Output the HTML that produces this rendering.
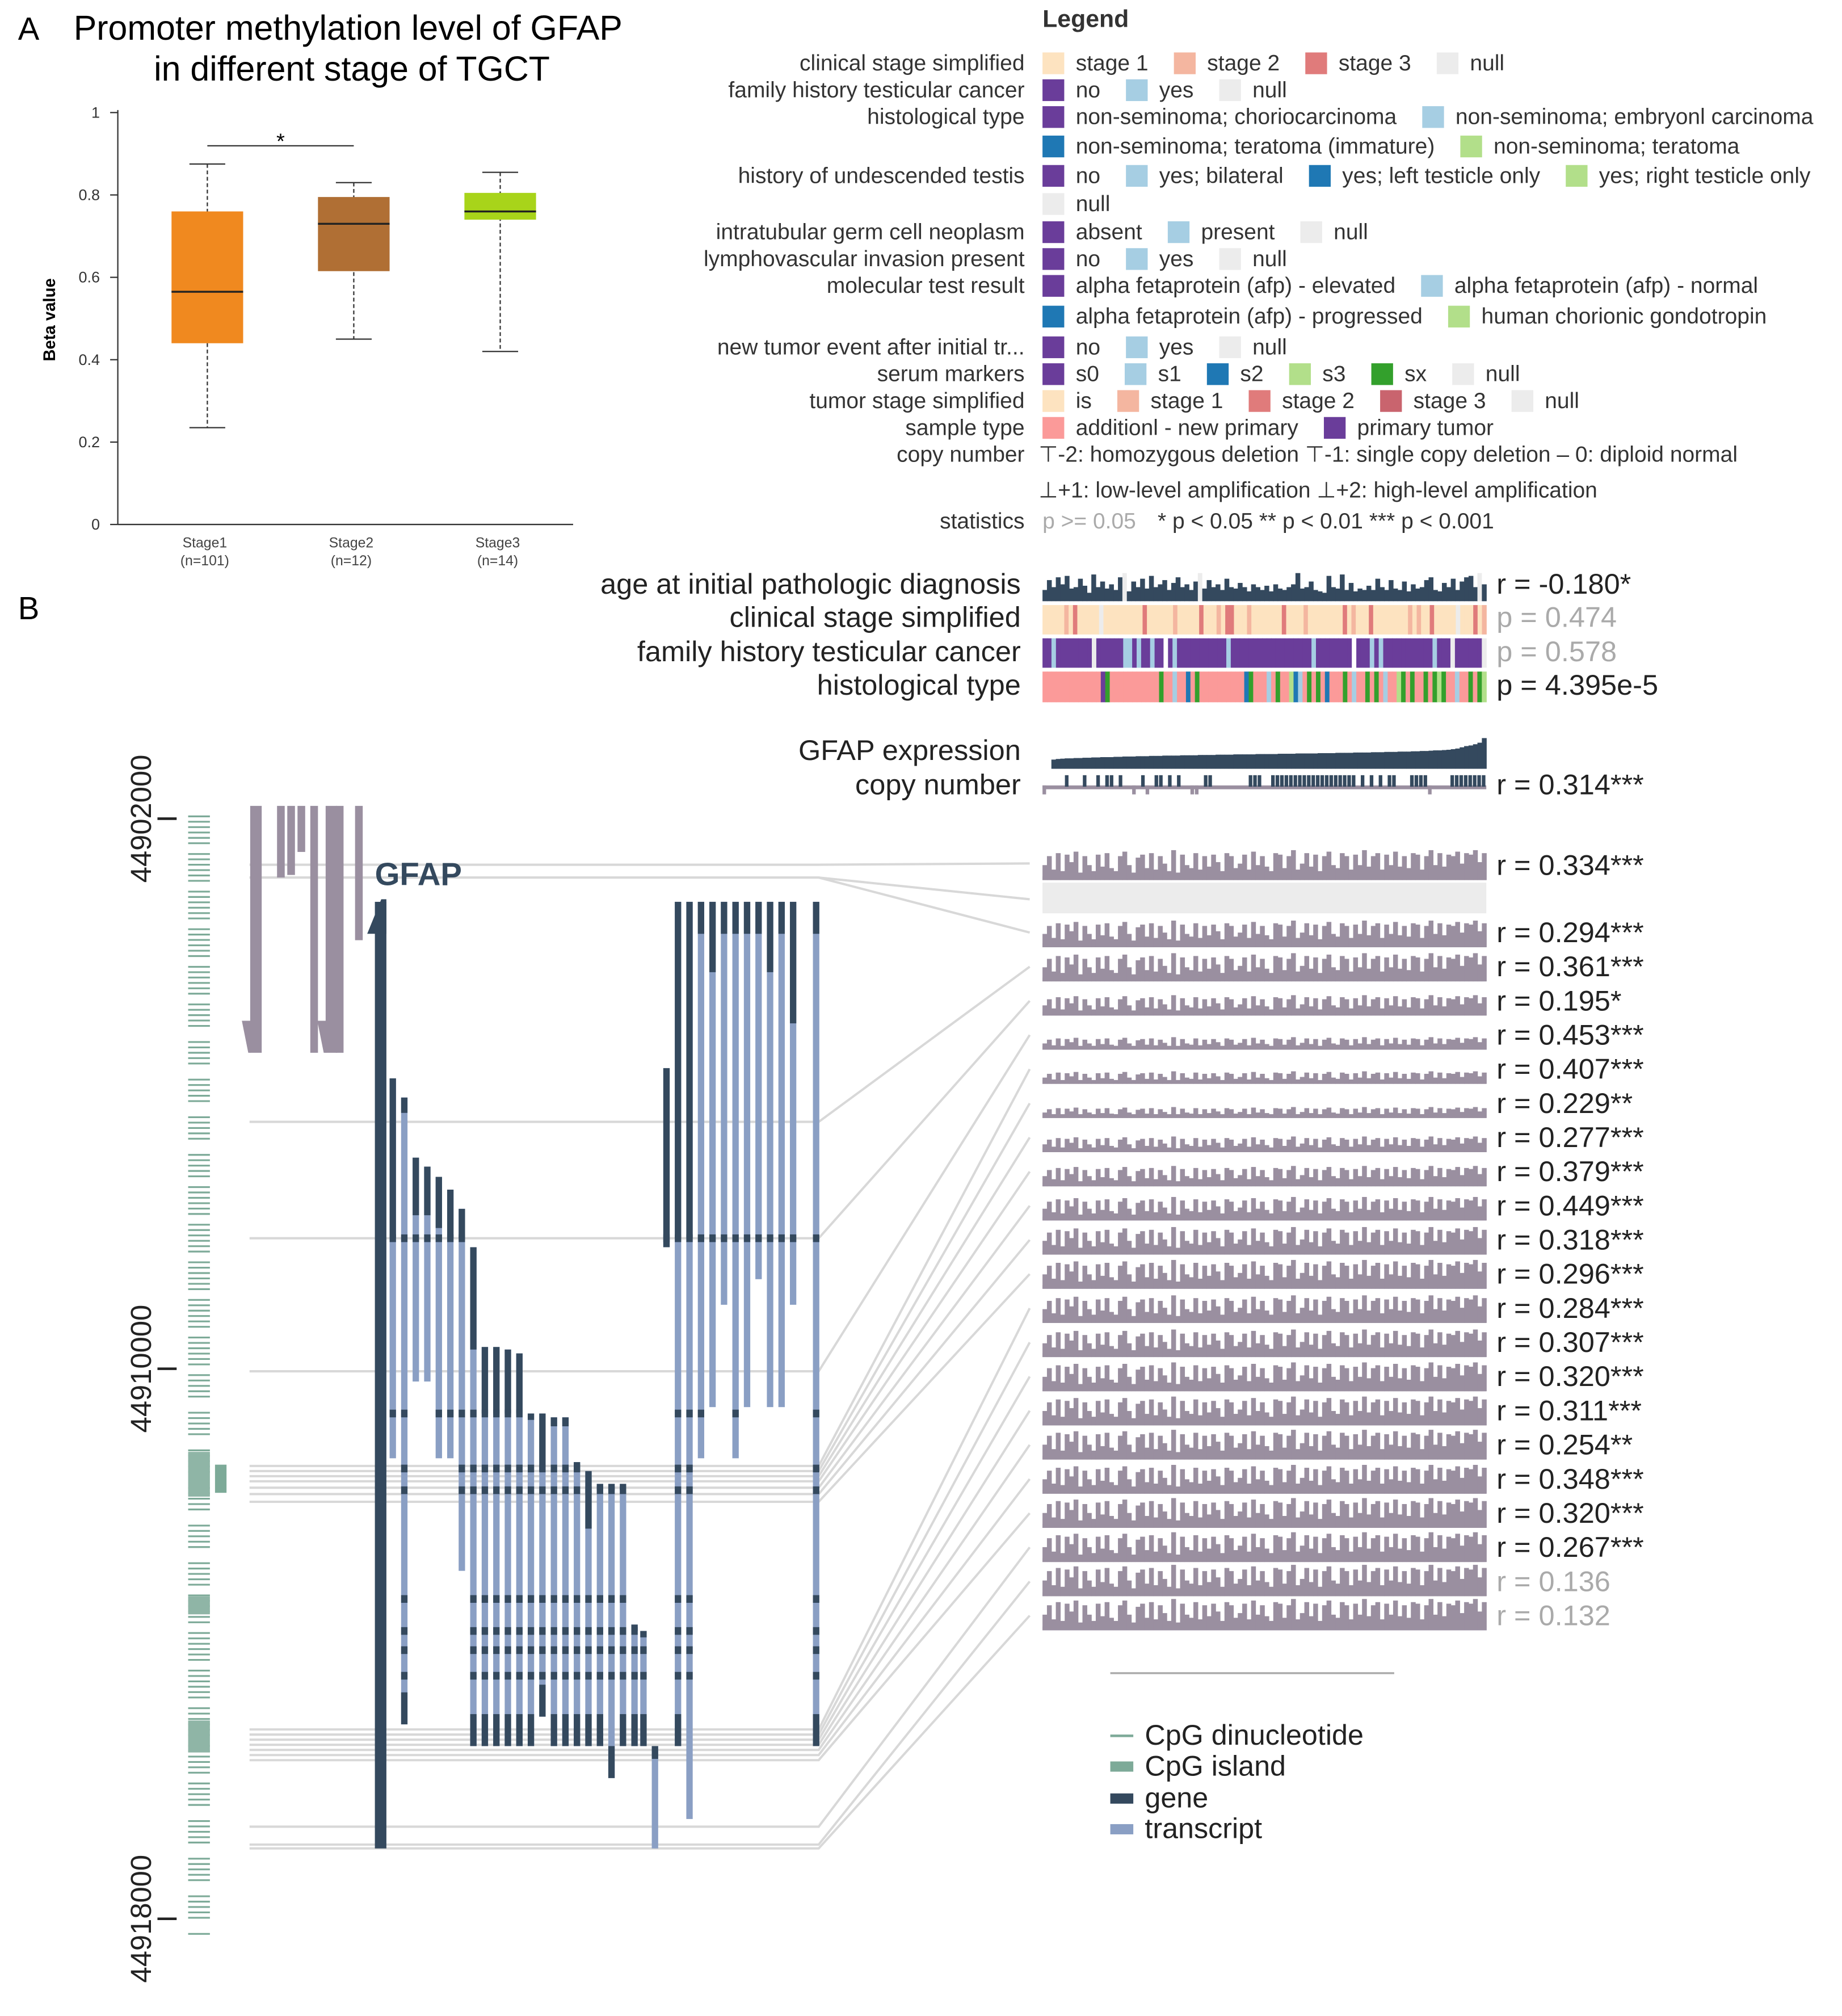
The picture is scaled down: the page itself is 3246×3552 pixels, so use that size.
<!DOCTYPE html>
<html><head><meta charset="utf-8"><style>
html,body{margin:0;padding:0;background:#fff}
svg{display:block}
text{font-family:"Liberation Sans",sans-serif}
</style></head><body>
<svg id="fig" width="3246" height="3552" viewBox="0 0 1440 1576" xmlns="http://www.w3.org/2000/svg">
<rect width="1440" height="1576" fill="#fff"/>
<g id="panelA">
<text x="14" y="31" font-size="25">A</text>
<text x="272" y="31" font-size="27" text-anchor="middle">Promoter methylation level of GFAP</text>
<text x="275" y="63" font-size="27" text-anchor="middle">in different stage of TGCT</text>
<text transform="translate(43,250) rotate(-90)" font-size="13" font-weight="bold" text-anchor="middle">Beta value</text>
<g id="boxes"></g>
</g>
<text x="14" y="484" font-size="25">B</text>
<g id="legend"></g>
<g id="tracks"></g>
<g id="gene"></g>
</svg>
<script>
const NS="http://www.w3.org/2000/svg";
function mk(tag,attrs,parent,txt){const e=document.createElementNS(NS,tag);for(const k in attrs)e.setAttribute(k,attrs[k]);if(txt!==undefined)e.textContent=txt;parent.appendChild(e);return e;}

/* ---------- Panel A boxplot data ---------- */
const stages=["Stage1","Stage2","Stage3"];
const stageN=["(n=101)","(n=12)","(n=14)"];
const q1=[0.44,0.615,0.74], q3=[0.76,0.795,0.805], med=[0.565,0.73,0.76];
const wlo=[0.235,0.45,0.42], whi=[0.875,0.83,0.855];
const boxColors=["#f0891f","#b06f34","#a8d41a"];
const yTicks=[0,0.2,0.4,0.6,0.8,1];
const yTickLabels=["0","0.2","0.4","0.6","0.8","1"];

const bx=document.getElementById('boxes');
const Y=v=>410-v*322, X=i=>162+i*114.5;
let ax=mk('line',{x1:92,y1:86,x2:92,y2:410,stroke:'#333','stroke-width':1},bx);


let xa=mk('line',{x1:92,y1:410,x2:448,y2:410,stroke:'#333','stroke-width':1},bx);


yTicks.forEach((v,i)=>{
  mk('line',{x1:86,y1:Y(v),x2:92,y2:Y(v),stroke:'#333'},bx);
  const t=mk('text',{x:78,y:Y(v)+4,'font-size':12,'text-anchor':'end',fill:'#333'},bx,yTickLabels[i]);
  
  
});
stages.forEach((s,i)=>{
  const cx=X(i),w=56;
  const g=mk('g',{},bx);
  
  
  mk('line',{x1:cx,y1:Y(whi[i]),x2:cx,y2:Y(wlo[i]),stroke:'#333','stroke-dasharray':'3,2'},g);
  mk('line',{x1:cx-14,y1:Y(whi[i]),x2:cx+14,y2:Y(whi[i]),stroke:'#333'},g);
  mk('line',{x1:cx-14,y1:Y(wlo[i]),x2:cx+14,y2:Y(wlo[i]),stroke:'#333'},g);
  mk('rect',{x:cx-w/2,y:Y(q3[i]),width:w,height:Y(q1[i])-Y(q3[i]),fill:boxColors[i]},g);
  mk('line',{x1:cx-w/2,y1:Y(med[i]),x2:cx+w/2,y2:Y(med[i]),stroke:'#222','stroke-width':1.5},g);
  const t=mk('text',{x:cx-2,y:428,'font-size':11,'text-anchor':'middle',fill:'#444'},bx,s);
  
  
  mk('text',{x:cx-2,y:442,'font-size':11,'text-anchor':'middle',fill:'#444'},bx,stageN[i]);
});
mk('line',{x1:X(0),y1:114,x2:X(1),y2:114,stroke:'#333'},bx);
let st=mk('text',{x:(X(0)+X(1))/2,y:116,'font-size':17,'text-anchor':'middle'},bx,'*');



/* ---------- Legend ---------- */
const C={s1:'#fde3c0',s2:'#f4b6a0',s3:'#e07b7b',nul:'#ececec',pu:'#6a3d9a',lb:'#a6cee3',bl:'#1f78b4',lg:'#b2df8a',gr:'#33a02c',pk:'#fb9a99',dk:'#34495e',s3b:'#c9646e'};
const legendRows=[
 [49,'clinical stage simplified',[['s1','stage 1'],['s2','stage 2'],['s3','stage 3'],['nul','null']]],
 [70,'family history testicular cancer',[['pu','no'],['lb','yes'],['nul','null']]],
 [91,'histological type',[['pu','non-seminoma; choriocarcinoma'],['lb','non-seminoma; embryonl carcinoma']]],
 [114,'',[['bl','non-seminoma; teratoma (immature)'],['lg','non-seminoma; teratoma']]],
 [137,'history of undescended testis',[['pu','no'],['lb','yes; bilateral'],['bl','yes; left testicle only'],['lg','yes; right testicle only']]],
 [159,'',[['nul','null']]],
 [181,'intratubular germ cell neoplasm',[['pu','absent'],['lb','present'],['nul','null']]],
 [202,'lymphovascular invasion present',[['pu','no'],['lb','yes'],['nul','null']]],
 [223,'molecular test result',[['pu','alpha fetaprotein (afp) - elevated'],['lb','alpha fetaprotein (afp) - normal']]],
 [247,'',[['bl','alpha fetaprotein (afp) - progressed'],['lg','human chorionic gondotropin']]],
 [271,'new tumor event after initial tr...',[['pu','no'],['lb','yes'],['nul','null']]],
 [292,'serum markers',[['pu','s0'],['lb','s1'],['bl','s2'],['lg','s3'],['gr','sx'],['nul','null']]],
 [313,'tumor stage simplified',[['s1','is'],['s2','stage 1'],['s3','stage 2'],['s3b','stage 3'],['nul','null']]],
 [334,'sample type',[['pk','additionl - new primary'],['pu','primary tumor']]]
];
const LF=17.3;
const lg=document.getElementById('legend');
mk('text',{x:815,y:21,'font-size':19,'font-weight':'bold',fill:'#333'},lg,'Legend');
legendRows.forEach(r=>{
  const [y,lab,items]=r;
  if(lab){const t=mk('text',{x:801,y:y+6,'font-size':LF,'text-anchor':'end',fill:'#333'},lg,lab);
    
    }
  let x=815;
  items.forEach(([c,l])=>{
    const g=mk('g',{},lg);
    
    
    mk('rect',{x:x,y:y-8,width:17,height:17,fill:C[c]},g);
    const t=mk('text',{x:x+26,y:y+6,'font-size':LF,fill:'#333'},g,l);
    let tw=0; try{tw=t.getComputedTextLength();}catch(e){}
    if(!tw) tw=l.length*8.2;
    x+=26+tw+20;
  });
});
mk('text',{x:801,y:361,'font-size':LF,'text-anchor':'end',fill:'#333'},lg,'copy number');
mk('text',{x:812,y:361,'font-size':LF,fill:'#333'},lg,'⊤-2: homozygous deletion ⊤-1: single copy deletion – 0: diploid normal');
mk('text',{x:812,y:389,'font-size':LF,fill:'#333'},lg,'⊥+1: low-level amplification ⊥+2: high-level amplification');
mk('text',{x:801,y:413,'font-size':LF,'text-anchor':'end',fill:'#333'},lg,'statistics');
mk('text',{x:815,y:413,'font-size':LF,fill:'#aaa'},lg,'p >= 0.05');
mk('text',{x:905,y:413,'font-size':LF,fill:'#333','xml:space':'preserve'},lg,'* p < 0.05     ** p < 0.01     *** p < 0.001');

/* ---------- Tracks data ---------- */
const ageVals=[.4,.75,.5,.85,.6,.9,.45,.5,.8,.55,.3,.95,.5,.7,.45,.6,.4,.85,0,.35,.7,.5,.8,.45,.9,.5,.6,.75,.4,.65,.85,.5,.6,.4,.7,0,.45,.75,.5,.6,.4,.8,.5,.45,.65,.5,.35,.6,.5,.4,.55,.35,.6,.45,.4,.5,.6,1,.45,.5,.7,.4,.35,.3,.9,.5,.45,.95,.4,.65,.35,.45,.4,.55,.4,.8,.5,.4,.75,.45,.4,.7,.35,.6,.45,.5,.75,.85,.4,.35,.65,.5,.8,.4,.7,.85,.9,.5,0,.6];
const clinicalCodes="1111121311111n1111111113111111211111311121331112111111131111211111111312111311111111s1211311111n111312";
const familyCodes="ooyoooooooonooooooyyoyooyoowoyoooooooooooyooooooooooooooooooyoooooooowoooyoyoooooooooooyooonoooooon";
const histCodes="pppppppppppppugpppppppppppgppeppbpgppppppppppbgpppepgpplbepgpgpbpppgpeppgpgpepplgpgppgpglgppeppgpgl";
const exprVals=[0,0,.3,.32,.33,.34,.34,.35,.35,.36,.36,.37,.37,.38,.38,.38,.39,.39,.4,.4,.4,.41,.41,.41,.42,.42,.42,.43,.43,.43,.43,.44,.44,.44,.44,.45,.45,.45,.45,.46,.46,.46,.46,.47,.47,.47,.47,.47,.48,.48,.48,.48,.48,.49,.49,.49,.49,.5,.5,.5,.5,.5,.51,.51,.51,.51,.52,.52,.52,.52,.53,.53,.53,.53,.54,.54,.54,.55,.55,.55,.56,.56,.56,.57,.57,.58,.58,.59,.6,.6,.61,.62,.64,.66,.7,.74,.76,.8,.85,1];
const copyCodes="100002000200202202001021022020200110220000000022200222222222222222222202020202200022221000022222222";
const rLabels=["r = 0.334***","","r = 0.294***","r = 0.361***","r = 0.195*","r = 0.453***","r = 0.407***","r = 0.229**","r = 0.277***","r = 0.379***","r = 0.449***","r = 0.318***","r = 0.296***","r = 0.284***","r = 0.307***","r = 0.320***","r = 0.311***","r = 0.254**","r = 0.348***","r = 0.320***","r = 0.267***","r = 0.136","r = 0.132"];
const rSignificant=[1,0,1,1,1,1,1,1,1,1,1,1,1,1,1,1,1,1,1,1,1,0,0];
const methLevels=[.9,0,.85,.9,.65,.4,.4,.35,.5,.65,.75,.88,.92,.88,.88,.92,.92,.95,.92,.95,.95,1,1];
const methShape=[.5,.8,.35,.9,.3,.85,.6,.95,.25,.8,.5,.3,.85,.45,.9,.4,.3,.8,.95,.5,.25,.75,.85,.4,.9,.35,.8,.55,.3,1,.25,.85,.5,.4,.9,.35,.8,.45,.85,.6,.3,.9,.8,.4,.55,.85,.35,.95,.5,.8,.45,.3,.9,.85,.4,.8,1,.35,.55,.9,.45,.85,.3,.8,.95,.5,.4,.9,.8,.35,.85,.5,1,.45,.8,.9,.35,.85,.5,.95,.45,.8,.4,.9,.85,.35,.8,1,.5,.9,.45,.85,.8,.95,.55,.9,.85,1,.6,.9];

const T=document.getElementById('tracks');
const TX0=815,TX1=1162,TW=TX1-TX0;
function label(y,txt,name){const t=mk('text',{x:798,y:y,'font-size':22.4,'text-anchor':'end',fill:'#222'},T,txt);
  
  }
function stat(y,txt,grey){const t=mk('text',{x:1170,y:y,'font-size':22.4,fill:grey?'#aaa':'#222'},T,txt);
  
  }
label(464,'age at initial pathologic diagnosis','track-label-age');
label(490,'clinical stage simplified','track-label-clinical-stage');
label(517,'family history testicular cancer','track-label-family-history');
label(543,'histological type','track-label-histological-type');
label(594,'GFAP expression','track-label-expression');
label(621,'copy number','track-label-copy-number');
stat(464,'r = -0.180*',0);stat(490,'p = 0.474',1);stat(517,'p = 0.578',1);stat(543,'p = 4.395e-5',0);stat(621,'r = 0.314***',0);

// age bars
{const n=ageVals.length,w=TW/n;const g=mk('g',{},T);
 
 
 ageVals.forEach((v,i)=>{ if(v===0){mk('rect',{x:TX0+i*w,y:448,width:w,height:22,fill:'#ececec'},g);return;}
  const h=22*v; const r=mk('rect',{x:TX0+i*w,y:470-h,width:w+0.3,height:h,fill:C.dk},g);
  
  });}
function catTrack(codes,map,y,h,name){const n=codes.length,w=TW/n;const g=mk('g',{},T);
  
  
  [...codes].forEach((c,i)=>{mk('rect',{x:TX0+i*w,y:y,width:w+0.3,height:h,fill:map[c]},g);});}
catTrack(clinicalCodes,{'1':C.s1,'2':C.s2,'3':C.s3,'s':C.s2,'n':C.nul},473,23,'clinical-stage-track');
catTrack(familyCodes,{o:C.pu,y:C.lb,w:'#fff',n:C.nul},499,23,'family-history-track');
catTrack(histCodes,{p:C.pk,g:C.gr,e:C.lb,b:C.bl,l:C.lg,u:C.pu},525,24,'histological-type-track');
// expression
{const n=exprVals.length,w=TW/n;const g=mk('g',{},T);
 
 
 exprVals.forEach((v,i)=>{const h=24*v;mk('rect',{x:TX0+i*w,y:601-h,width:w+0.3,height:h,fill:C.dk},g);});}
// copy number
{const n=copyCodes.length,w=TW/n;const g=mk('g',{},T);
 
 
 mk('rect',{x:TX0,y:614,width:TW,height:3,fill:'#9a8fa0'},g);
 [...copyCodes].forEach((c,i)=>{
  if(c==='2')mk('rect',{x:TX0+i*w,y:606,width:w*0.8,height:9,fill:C.dk},g);
  if(c==='1')mk('rect',{x:TX0+i*w,y:614,width:w*0.8,height:7,fill:'#9a8fa0'},g);});}
// methylation tracks
const trackTop=i=> i===0?662:(i===1?690:716+(i-2)*26.7);
rLabels.forEach((lab,i)=>{
  const y0=trackTop(i),h=i<2?26:24.5;
  const g=mk('g',{},T);
  
  
  if(i===1){mk('rect',{x:TX0,y:y0,width:TW,height:24,fill:'#ececec'},g);return;}
  const n=methShape.length,w=TW/n;
  mk('rect',{x:TX0,y:y0+h-3,width:TW,height:3,fill:'#9a8fa0'},g);
  methShape.forEach((v,j)=>{const bh=Math.max(1,h*methLevels[i]*v);
    mk('rect',{x:TX0+j*w,y:y0+h-bh,width:w+0.3,height:bh,fill:'#9a8fa0'},g);});
  const t=mk('text',{x:1170,y:y0+h-4,'font-size':22.4,fill:rSignificant[i]?'#222':'#aaa'},T,lab);
  
  
});

/* ---------- Gene diagram ---------- */
const G=document.getElementById('gene');
const leftYs=[676,686,686,877,968,1072,1146,1150,1154,1158,1163,1168,1174,1352,1356,1360,1364,1368,1372,1376,1428,1442,1445];
leftYs.forEach((ly,i)=>{
  const ty=trackTop(i)+13;
  const p=mk('polyline',{points:`195,${ly} 640,${ly} 805,${ty}`,fill:'none',stroke:'#d8d8d8','stroke-width':1.8},G);
  
  
});
// axis
const genTicks=[44902000,44910000,44918000];
const GY=v=>640+(v-44902000)/8000*430;
genTicks.forEach(v=>{
  mk('line',{x1:123,y1:GY(v),x2:138,y2:GY(v),stroke:'#222','stroke-width':2},G);
  const t=mk('text',{transform:`translate(118,${GY(v)}) rotate(-90)`,'font-size':22.5,'text-anchor':'middle',fill:'#222'},G,String(v));
  
  
});
// CpG dinucleotides
{const g=mk('g',{},G);
 
 
 for(let y=634;y<1512;y+=4.2){ if((Math.floor(y)%29)>22)continue;
   mk('line',{x1:147,y1:y,x2:164,y2:y,stroke:'#7daa98','stroke-width':1.4},g);}
 [[1135,1170],[1248,1262],[1345,1370]].forEach(([a,b])=>mk('rect',{x:147,y:a,width:17,height:b-a,fill:'#8fb5a6'},g));
 mk('rect',{x:168,y:1145,width:9,height:22,fill:'#7daa98'},g);}
// grey other-gene transcripts
const greyTx=[[199,630,823,1],[220,630,686,0],[228,630,684,0],[236,630,666,0],[246,630,823,0],[258,630,823,1],[266,630,823,0],[281,630,735,0]];
greyTx.forEach(([x,a,b,arrow])=>{
  const g=mk('g',{},G);
  
  
  mk('rect',{x:x-3.5,y:a,width:arrow?9:6,height:b-a,fill:'#9a8fa0'},g);
  if(arrow)mk('polygon',{points:`${x-10},${b-25} ${x-3},${b-25} ${x-3},${b} ${x-5},${b}`,fill:'#9a8fa0'},g);
});
// GFAP gene
mk('rect',{x:293,y:705,width:9,height:740,fill:C.dk},G);
mk('polygon',{points:`287,730 298,703 302,703 302,730`,fill:C.dk},G);
let gt=mk('text',{x:293,y:692,'font-size':25,'font-weight':'bold',fill:C.dk},G,'GFAP');


// transcripts: [x, top, bottom, darkEnd]
const transcripts=[[307,843,1140,968],[316,858,1348,870],[325,905,1080,950],[334,912,1080,950],[343,920,1140,960],[352,930,1140,968],[361,945,1228,968],[370,975,1365,1055],[379,1053,1365,1105],[388,1053,1365,1105],[397,1055,1365,1105],[406,1058,1365,1105],[415,1105,1365,1110],[424,1105,1342,1150],[433,1108,1365,1115],[442,1108,1365,1115],[451,1143,1365,1150],[460,1150,1365,1195],[469,1160,1365,1165],[478,1160,1390,1165],[487,1160,1365,1165],[496,1270,1365,1275],[503,1275,1365,1280],[512,1365,1445,1375],[521,835,975,975],[530,705,1365,968],[539,705,1422,968],[548,705,1140,730],[557,705,1100,760],[566,705,1020,730],[575,705,1140,730],[584,705,1100,730],[593,705,1000,730],[602,705,1100,760],[611,705,1100,730],[620,705,1020,800],[638,705,1365,730]];
const bandYs=[968,1105,1148,1165,1250,1275,1290,1310];
transcripts.forEach(([x,a,b,d])=>{
  const g=mk('g',{},G);
  
  
  mk('rect',{x:x-2.5,y:a,width:5,height:b-a,fill:'#8a9fc4'},g);
  mk('rect',{x:x-2.5,y:a,width:5,height:d-a,fill:C.dk},g);
  bandYs.forEach(by=>{if(by>a&&by<b-4)mk('rect',{x:x-2.5,y:by-3,width:5,height:6,fill:C.dk},g);});
  if(b>1300&&b<1400)mk('rect',{x:x-2.5,y:b-25,width:5,height:25,fill:C.dk},g);
});
// bottom legend
const bl=mk('g',{},G);


mk('line',{x1:868,y1:1308,x2:1090,y2:1308,stroke:'#aaa','stroke-width':1.5},bl);
[['CpG dinucleotide','line','#7daa98',1357],['CpG island','rect','#7daa98',1381],['gene','rect',C.dk,1406],['transcript','rect','#8a9fc4',1430]].forEach(([l,k,c,y])=>{
  if(k==='line')mk('line',{x1:868,y1:y,x2:886,y2:y,stroke:c,'stroke-width':2},bl);
  else mk('rect',{x:868,y:y-4,width:18,height:8,fill:c},bl);
  const t=mk('text',{x:895,y:y+7,'font-size':22.3,fill:'#222'},bl,l);
  
  
});
</script>
</body></html>
